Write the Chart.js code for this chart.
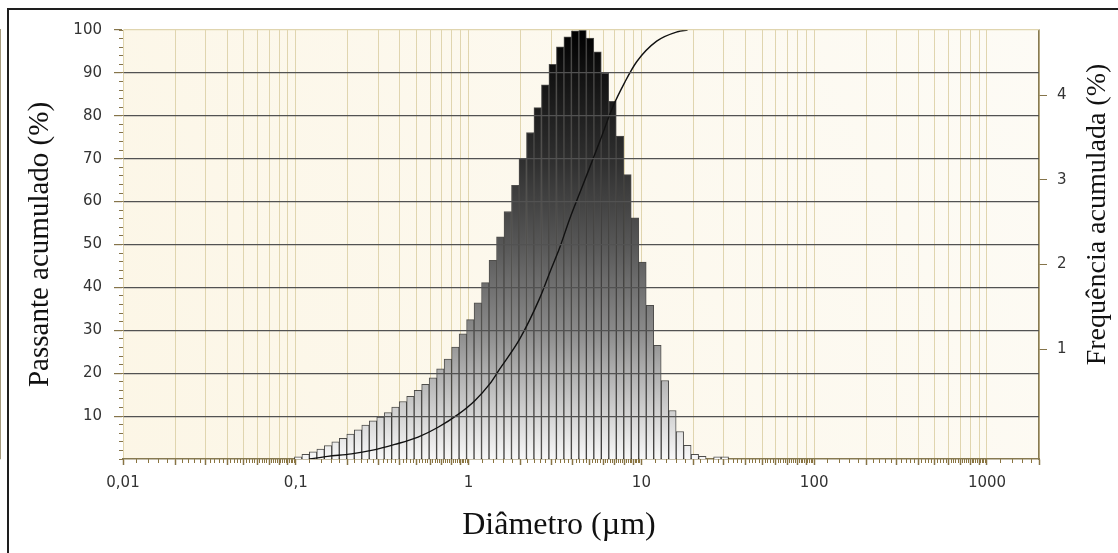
<!DOCTYPE html>
<html>
<head>
<meta charset="utf-8">
<script src="https://cdn.jsdelivr.net/npm/chart.js@4.4.0/dist/chart.umd.min.js"></script>
<style>
  html, body { margin: 0; padding: 0; background: #fff; overflow: hidden; }
  #moldura { position: absolute; left: 7px; top: 8px; width: 1130px; height: 560px;
             border-top: 2px solid #1e1e1e; border-left: 2px solid #1e1e1e; }
  #wrap { position: absolute; left: 0; top: 0; width: 1118px; height: 553px; }
</style>
</head>
<body>
<div id="moldura"></div>
<div id="wrap"><canvas id="grafico"></canvas></div>
<script>
// diâmetro central de cada classe (µm)
const diametros = [
  0.1032, 0.1140, 0.1259, 0.1391, 0.1537, 0.1698, 0.1876, 0.2073, 0.2291, 0.2531,
  0.2797, 0.3090, 0.3414, 0.3772, 0.4168, 0.4605, 0.5088, 0.5623, 0.6212, 0.6864,
  0.7584, 0.8380, 0.9260, 1.0231, 1.1304, 1.2490, 1.3800, 1.5248, 1.6848, 1.8615,
  2.0568, 2.2726, 2.5107, 2.7743, 3.0652, 3.3868, 3.7421, 4.1347, 4.5684, 5.0477,
  5.5773, 6.1624, 6.8077, 7.5219, 8.3110, 9.1829, 10.146, 11.211, 12.387, 13.686,
  15.122, 16.708, 18.461, 20.397, 22.537, 24.901, 27.514, 30.400
];
// altura das barras (escala do eixo esquerdo, pico = 100)
const frequencia = [
  0.5, 1.1, 1.7, 2.3, 3.1, 4.0, 4.8, 5.8, 6.8, 7.9,
  8.9, 9.8, 10.8, 12.1, 13.4, 14.6, 16.0, 17.4, 18.9, 21.0,
  23.3, 26.1, 29.2, 32.5, 36.4, 41.1, 46.3, 51.8, 57.7, 63.8,
  70.0, 76.1, 81.9, 87.2, 92.0, 96.1, 98.4, 99.8, 100, 98.1,
  94.9, 89.9, 83.4, 75.3, 66.3, 56.2, 45.9, 35.8, 26.5, 18.3,
  11.3, 6.4, 3.2, 1.1, 0.6, 0, 0.5, 0.5
];
// curva acumulada
const curvaDiametros = [0.12, 0.153, 0.21, 0.274, 0.374, 0.51, 0.666, 0.87, 1.086, 1.326,
  1.515, 1.978, 2.58, 2.95, 3.37, 3.85, 4.58, 5.74, 6.82, 8.01, 9.39, 12.26, 16.2, 18.5];
const curvaPassante = [0, 0.6, 1.2, 2.0, 3.4, 5.1, 7.4, 10.4, 13.6, 17.5,
  21, 28, 37.5, 43.5, 49.3, 56, 63.8, 74, 82, 87.8, 92.6, 97.4, 99.6, 100];

const xDecadas = [0.01, 0.1, 1, 10, 100, 1000];
const xRotulos = ['0,01', '0,1', '1', '10', '100', '1000'];
const yTicks = [10, 20, 30, 40, 50, 60, 70, 80, 90, 100];
const freqTicks = [1, 2, 3, 4];

const tituloX = 'Diâmetro (µm)';
const tituloY = 'Passante acumulado (%)';
const tituloY1 = 'Frequência acumulada (%)';

// linhas de grade verticais: 1..9 em cada década
const xGrade = [];
for (const d of [0.01, 0.1, 1, 10, 100]) {
  for (let m = 1; m <= 9; m++) xGrade.push(+(m * d).toPrecision(3));
}
xGrade.push(1000, 2000);
// marcas menores a cada 0,2 da década
const xMenores = [];
for (const d of [0.01, 0.1, 1, 10, 100, 1000]) {
  for (let m = 10; m < 100; m += 2) {
    const v = +(m * d / 10).toPrecision(4);
    if (v <= 2000) xMenores.push(v);
  }
}
const yMenores = [];
for (let v = 0; v <= 100; v += 2) yMenores.push(v);

Chart.defaults.font.family = 'DejaVu Sans';
Chart.defaults.animation = false;

const corEixo = '#877a52';
const corMarca = '#85744a';

const fundo = {
  id: 'fundo',
  beforeDraw(chart) {
    const { ctx, chartArea: a } = chart;
    const g = ctx.createLinearGradient(a.left, a.bottom, a.right, a.top);
    g.addColorStop(0, '#fcf6e6');
    g.addColorStop(1, '#fdfbf5');
    ctx.save();
    ctx.fillStyle = g;
    ctx.fillRect(a.left, a.top, a.right - a.left, a.bottom - a.top);
    ctx.restore();
  }
};

// título do eixo direito, lido de baixo para cima como no original
const tituloDireito = {
  id: 'tituloDireito',
  afterDraw(chart) {
    const { ctx, chartArea: a } = chart;
    const s = chart.scales.y1;
    ctx.save();
    ctx.translate(s.right - 20, a.top + (a.bottom - a.top) * 0.43);
    ctx.rotate(-Math.PI / 2);
    ctx.font = '28px "Liberation Serif"';
    ctx.fillStyle = '#111';
    ctx.textAlign = 'center';
    ctx.textBaseline = 'middle';
    ctx.fillText(tituloY1, 0, 0);
    ctx.restore();
  }
};

let gradBarras = null;
function corBarra(ctx) {
  const a = ctx.chart.chartArea;
  if (!a) return '#888';
  if (!gradBarras) {
    const g = ctx.chart.ctx.createLinearGradient(0, a.top, 0, a.bottom);
    g.addColorStop(0, '#000');
    g.addColorStop(0.1, '#111');
    g.addColorStop(0.3, '#2e2e2e');
    g.addColorStop(0.5, '#575757');
    g.addColorStop(0.7, '#8a8a8a');
    g.addColorStop(0.8, '#b0b0b0');
    g.addColorStop(1, '#f8f8f8');
    gradBarras = g;
  }
  return gradBarras;
}

const fonteTick = { family: 'DejaVu Sans', size: 15 };

new Chart(document.getElementById('grafico'), {
  type: 'bar',
  data: {
    datasets: [
      {
        type: 'line',
        data: curvaDiametros.map((d, i) => ({ x: d, y: curvaPassante[i] })),
        borderColor: '#111',
        borderWidth: 1.4,
        pointRadius: 0,
        cubicInterpolationMode: 'monotone',
        xAxisID: 'x',
        yAxisID: 'y',
        order: 0
      },
      {
        type: 'bar',
        data: diametros.map((d, i) => ({ x: d, y: frequencia[i] })),
        backgroundColor: corBarra,
        borderColor: 'rgba(35,35,35,0.8)',
        borderWidth: 1,
        barPercentage: 1,
        categoryPercentage: 1,
        xAxisID: 'x',
        yAxisID: 'y',
        order: 1
      }
    ]
  },
  options: {
    responsive: true,
    maintainAspectRatio: false,
    layout: { padding: { top: 30, left: 0, right: 0, bottom: 0 } },
    plugins: {
      legend: { display: false },
      tooltip: { enabled: false },
      title: {
        display: true,
        position: 'bottom',
        text: tituloX,
        color: '#111',
        font: { family: 'Liberation Serif', size: 32, weight: 'normal' },
        padding: { top: 0, bottom: 8 }
      }
    },
    scales: {
      x: {
        type: 'logarithmic',
        position: 'bottom',
        min: 0.01,
        max: 2000,
        offset: false,
        weight: 1,
        afterBuildTicks: s => { s.ticks = xGrade.map(v => ({ value: v })); },
        afterFit: s => { s.height = 47.6; },
        grid: { offset: false, color: '#e0d5af', lineWidth: 1, tickLength: 6, tickColor: corMarca, tickWidth: 1.5 },
        border: { color: corEixo, width: 1.5 },
        ticks: {
          autoSkip: false, maxRotation: 0, padding: 9, color: '#333', font: fonteTick,
          callback: v => {
            const i = xDecadas.findIndex(d => Math.abs(d - v) / d < 1e-6);
            return i >= 0 ? xRotulos[i] : '';
          }
        }
      },
      xMenor: {
        type: 'logarithmic',
        position: 'bottom',
        min: 0.01,
        max: 2000,
        offset: false,
        weight: 0,
        afterBuildTicks: s => { s.ticks = xMenores.map(v => ({ value: v })); },
        afterFit: s => { s.height = 0; },
        grid: { offset: false, drawOnChartArea: false, tickLength: 4, tickColor: '#8a7440', tickWidth: 1 },
        border: { display: false },
        ticks: { display: false, autoSkip: false }
      },
      y: {
        type: 'linear',
        position: 'left',
        min: 0,
        max: 100,
        weight: 1,
        afterBuildTicks: s => { s.ticks = yTicks.map(v => ({ value: v })); },
        afterFit: s => { s.width = 123; },
        grid: {
          z: 1,
          color: c => (c.tick && c.tick.value === 100 ? '#e0d5af' : '#525252'),
          lineWidth: 1.2,
          tickLength: 9,
          tickColor: corMarca
        },
        border: { color: corEixo, width: 1.5 },
        ticks: { padding: 12, color: '#333', font: fonteTick },
        title: {
          display: true,
          text: tituloY,
          color: '#111',
          font: { family: 'Liberation Serif', size: 29 },
          padding: { top: 23, bottom: 0 }
        }
      },
      yMenor: {
        type: 'linear',
        position: 'left',
        min: 0,
        max: 100,
        weight: 0,
        afterBuildTicks: s => { s.ticks = yMenores.map(v => ({ value: v })); },
        afterFit: s => { s.width = 0; },
        grid: { drawOnChartArea: false, tickLength: 4, tickColor: corMarca },
        border: { display: false },
        ticks: { display: false }
      },
      y1: {
        type: 'linear',
        position: 'right',
        min: -0.3,
        max: 4.77,
        afterBuildTicks: s => { s.ticks = freqTicks.map(v => ({ value: v })); },
        afterFit: s => { s.width = 79; },
        grid: { drawOnChartArea: false, tickLength: 8, tickColor: corMarca },
        border: { color: corEixo, width: 1.5 },
        ticks: { padding: 10, color: '#333', font: fonteTick }
      }
    }
  },
  plugins: [fundo, tituloDireito]
});
</script>
</body>
</html>
